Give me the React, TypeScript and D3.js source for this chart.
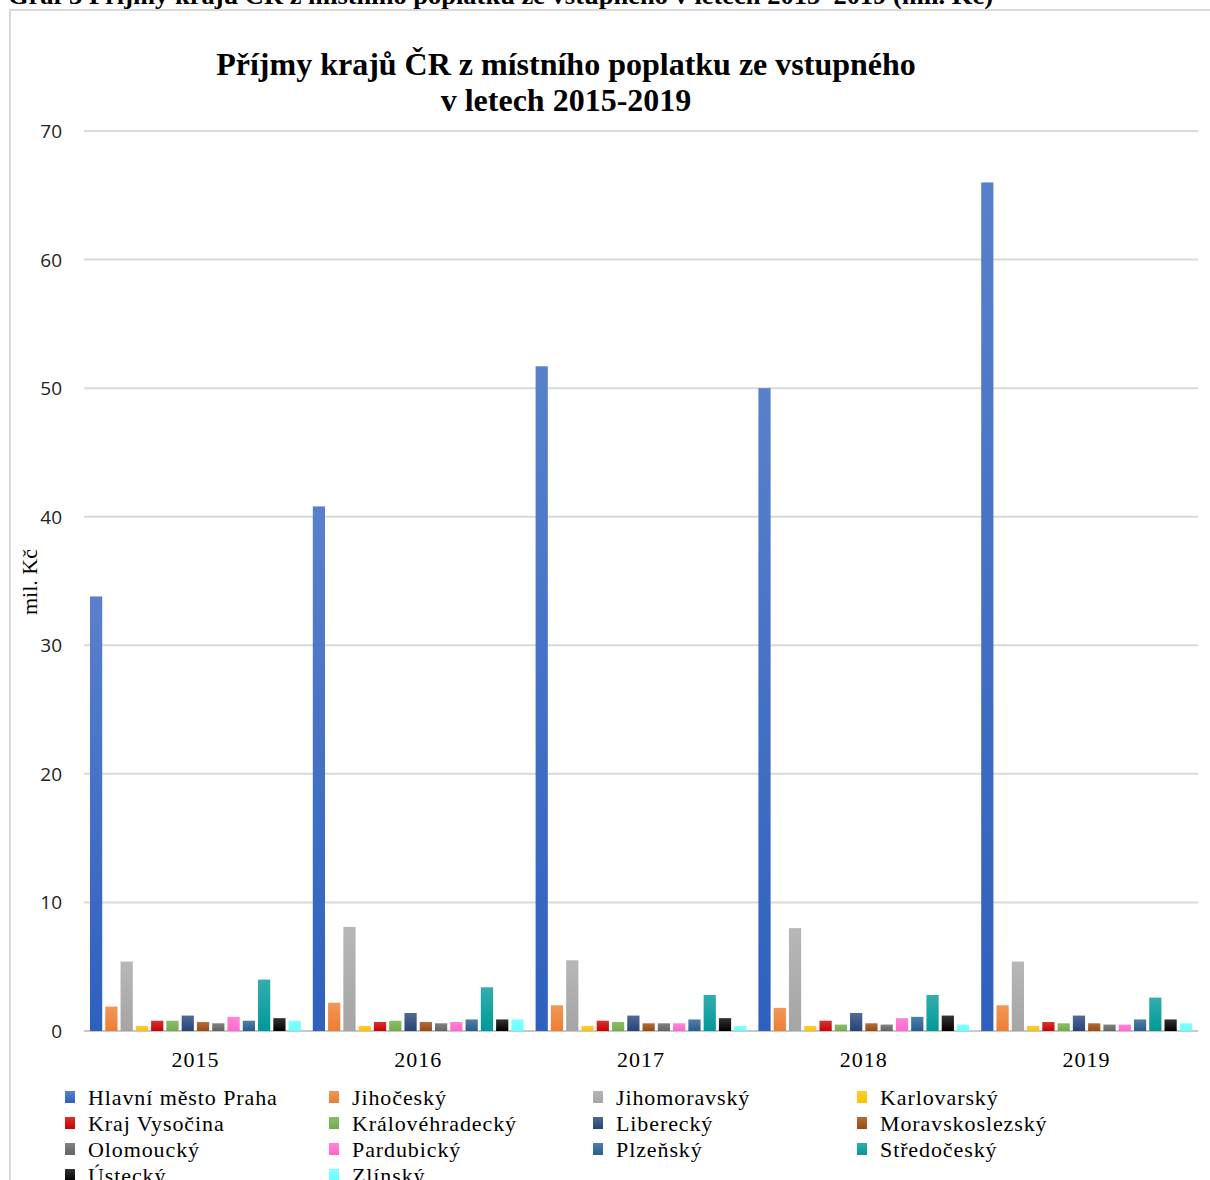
import React from "react";
import * as d3 from "d3";

const years = ["2015", "2016", "2017", "2018", "2019"];
const regions = [
  "Hlavní město Praha",
  "Jihočeský",
  "Jihomoravský",
  "Karlovarský",
  "Kraj Vysočina",
  "Královéhradecký",
  "Liberecký",
  "Moravskoslezský",
  "Olomoucký",
  "Pardubický",
  "Plzeňský",
  "Středočeský",
  "Ústecký",
  "Zlínský",
];
const colors = [
  "#2f60be",
  "#ED7D31",
  "#A5A5A5",
  "#FFC000",
  "#CC0000",
  "#70AD47",
  "#264478",
  "#9E480E",
  "#636363",
  "#FF66CC",
  "#255E91",
  "#009999",
  "#000000",
  "#66FFFF",
];
// values per region, ordered by year 2015..2019 (mil. Kč)
const praha = [33.8, 40.8, 51.7, 50.0, 66.0];
const jihocesky = [1.9, 2.2, 2.0, 1.8, 2.0];
const jihomoravsky = [5.4, 8.1, 5.5, 8.0, 5.4];
const karlovarsky = [0.4, 0.4, 0.4, 0.4, 0.4];
const vysocina = [0.8, 0.7, 0.8, 0.8, 0.7];
const kralovehradecky = [0.8, 0.8, 0.7, 0.5, 0.6];
const liberecky = [1.2, 1.4, 1.2, 1.4, 1.2];
const moravskoslezsky = [0.7, 0.7, 0.6, 0.6, 0.6];
const olomoucky = [0.6, 0.6, 0.6, 0.5, 0.5];
const pardubicky = [1.1, 0.7, 0.6, 1.0, 0.5];
const plzensky = [0.8, 0.9, 0.9, 1.1, 0.9];
const stredocesky = [4.0, 3.4, 2.8, 2.8, 2.6];
const ustecky = [1.0, 0.9, 1.0, 1.2, 0.9];
const zlinsky = [0.8, 0.9, 0.4, 0.5, 0.6];
const seriesValues = [
  praha, jihocesky, jihomoravsky, karlovarsky, vysocina, kralovehradecky,
  liberecky, moravskoslezsky, olomoucky, pardubicky, plzensky, stredocesky,
  ustecky, zlinsky,
];
const yTicks = [0, 10, 20, 30, 40, 50, 60, 70];

const W = 1210;
const H = 1180;

export default function App() {
  const x0 = d3.scaleBand<string>().domain(years).range([84, 1198]).padding(0);
  const bw = x0.bandwidth();
  const x1 = d3
    .scaleBand<string>()
    .domain(regions)
    .range([6, bw - 6])
    .paddingInner(0.2)
    .paddingOuter(0);
  const y = d3.scaleLinear().domain([0, 70]).range([1031, 131]);

  const serif = "'Liberation Serif', 'Times New Roman', serif";
  const sans = "'Open Sans', 'Liberation Sans', sans-serif";

  const legendCols = [65, 329, 593, 857];
  const legendRows = [1097, 1123, 1149, 1175];

  return (
    <svg
      width={W}
      height={H}
      style={{ position: "absolute", left: 0, top: 0, background: "#fff" }}
    >
      <defs>
        {colors.map((c, i) => {
          const light = d3.color(d3.interpolateRgb(c, "#ffffff")(0.2))!.formatHex();
          return (
            <linearGradient key={i} id={`g${i}`} x1="0" y1="0" x2="0" y2="1">
              <stop offset="0" stopColor={light} />
              <stop offset="1" stopColor={c} />
            </linearGradient>
          );
        })}
      </defs>
      <rect x={0} y={0} width={W} height={H} fill="#fff" />
      <text
        x={8}
        y={4}
        fontFamily={serif}
        fontWeight="bold"
        fontSize={26}
        textLength={985}
        lengthAdjust="spacingAndGlyphs"
        fill="#000"
      >
        Graf 3 Příjmy krajů ČR z místního poplatku ze vstupného v letech 2015–2019 (mil. Kč)
      </text>
      {/* frame */}
      <line x1={9} y1={10} x2={1210} y2={10} stroke="#d9d9d9" strokeWidth={2} />
      <line x1={10} y1={10} x2={10} y2={1180} stroke="#d9d9d9" strokeWidth={2} />

      {/* title */}
      <text
        x={566}
        y={75}
        textAnchor="middle"
        fontFamily={serif}
        fontWeight="bold"
        fontSize={32}
        fill="#000"
      >
        Příjmy krajů ČR z místního poplatku ze vstupného
      </text>
      <text
        x={566}
        y={111}
        textAnchor="middle"
        fontFamily={serif}
        fontWeight="bold"
        fontSize={32}
        fill="#000"
      >
        v letech 2015-2019
      </text>

      {/* gridlines + y ticks */}
      {yTicks.map((t) => (
        <g key={t}>
          <line
            x1={84}
            x2={1198}
            y1={y(t)}
            y2={y(t)}
            stroke={t === 0 ? "#c8c8c8" : "#d9d9d9"}
            strokeWidth={2}
          />
          <text
            x={62}
            y={y(t)}
            textAnchor="end"
            dominantBaseline="central"
            fontFamily={sans}
            fontSize={19}
            fill="#222"
          >
            {t}
          </text>
        </g>
      ))}

      {/* y axis title */}
      <text
        transform={`translate(37,582) rotate(-90)`}
        textAnchor="middle"
        fontFamily={serif}
        fontSize={22}
        fill="#000"
      >
        mil. Kč
      </text>

      {/* bars */}
      {years.map((yr, yi) => (
        <g key={yr} transform={`translate(${x0(yr)},0)`}>
          {regions.map((r, ri) => {
            const v = seriesValues[ri][yi];
            return (
              <rect
                key={r}
                x={x1(r)}
                y={y(v)}
                width={x1.bandwidth()}
                height={y(0) - y(v)}
                fill={`url(#g${ri})`}
              />
            );
          })}
          <text
            x={bw / 2}
            y={1067}
            textAnchor="middle"
            fontFamily={serif}
            fontSize={22}
            letterSpacing={1}
            fill="#000"
          >
            {yr}
          </text>
        </g>
      ))}

      {/* legend */}
      {regions.map((r, i) => {
        const cx = legendCols[i % 4];
        const cy = legendRows[Math.floor(i / 4)];
        return (
          <g key={r}>
            <rect x={cx} y={cy - 6} width={10} height={12} fill={`url(#g${i})`} />
            <text
              x={cx + 23}
              y={cy}
              dominantBaseline="central"
              fontFamily={serif}
              fontSize={22}
              letterSpacing={0.9}
              fill="#000"
            >
              {r}
            </text>
          </g>
        );
      })}
    </svg>
  );
}
